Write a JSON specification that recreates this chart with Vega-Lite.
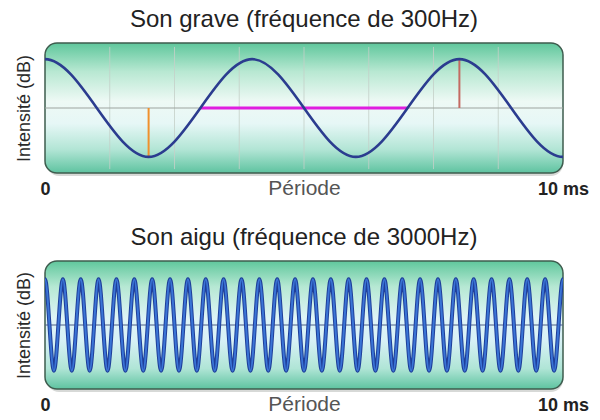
{
  "$schema": "https://vega.github.io/schema/vega-lite/v6.json",
  "padding": {"left": 15, "top": 8, "right": 0, "bottom": 0},
  "background": "white",
  "spacing": 28,
  "config": {
    "view": {"stroke": null},
    "font": "Liberation Sans",
    "title": {"font": "Liberation Sans", "fontSize": 24, "fontWeight": "normal", "color": "#222222", "offset": 10},
    "axisX": {
      "tickCount": 1, "ticks": false, "domain": false, "grid": false,
      "labelExpr": "datum.value == 0 ? '0' : datum.value == 10 ? '10 ms' : ''",
      "labelAlign": "center", "labelFlush": false, "labelOverlap": false,
      "labelFont": "Liberation Sans", "labelFontSize": 18, "labelFontWeight": "bold", "labelColor": "#222222",
      "labelPadding": 7,
      "titleFont": "Liberation Sans", "titleFontSize": 21, "titleFontWeight": "normal",
      "titleColor": "#555555", "titlePadding": -21
    },
    "axisY": {
      "ticks": false, "domain": false, "grid": false, "labels": false,
      "titleFont": "Liberation Sans", "titleFontSize": 18, "titleFontWeight": "normal",
      "titleColor": "#2a2a2a", "titlePadding": 12
    }
  },
  "datasets": {
    "grave": [
      {"x": -2, "y": -1}, {"x": 0, "y": 1}, {"x": 2, "y": -1}, {"x": 4, "y": 1}, {"x": 6, "y": -1}, {"x": 8, "y": 1}, {"x": 10, "y": -1}, {"x": 12, "y": 1}
    ],
    "aigu": [
      {"x": -0.172, "y": -1},
      {"x": 0, "y": 1}, {"x": 0.172, "y": -1}, {"x": 0.345, "y": 1}, {"x": 0.517, "y": -1}, {"x": 0.69, "y": 1}, {"x": 0.862, "y": -1},
      {"x": 1.034, "y": 1}, {"x": 1.207, "y": -1}, {"x": 1.379, "y": 1}, {"x": 1.552, "y": -1}, {"x": 1.724, "y": 1}, {"x": 1.897, "y": -1},
      {"x": 2.069, "y": 1}, {"x": 2.241, "y": -1}, {"x": 2.414, "y": 1}, {"x": 2.586, "y": -1}, {"x": 2.759, "y": 1}, {"x": 2.931, "y": -1},
      {"x": 3.103, "y": 1}, {"x": 3.276, "y": -1}, {"x": 3.448, "y": 1}, {"x": 3.621, "y": -1}, {"x": 3.793, "y": 1}, {"x": 3.966, "y": -1},
      {"x": 4.138, "y": 1}, {"x": 4.31, "y": -1}, {"x": 4.483, "y": 1}, {"x": 4.655, "y": -1}, {"x": 4.828, "y": 1}, {"x": 5.0, "y": -1},
      {"x": 5.172, "y": 1}, {"x": 5.345, "y": -1}, {"x": 5.517, "y": 1}, {"x": 5.69, "y": -1}, {"x": 5.862, "y": 1}, {"x": 6.034, "y": -1},
      {"x": 6.207, "y": 1}, {"x": 6.379, "y": -1}, {"x": 6.552, "y": 1}, {"x": 6.724, "y": -1}, {"x": 6.897, "y": 1}, {"x": 7.069, "y": -1},
      {"x": 7.241, "y": 1}, {"x": 7.414, "y": -1}, {"x": 7.586, "y": 1}, {"x": 7.759, "y": -1}, {"x": 7.931, "y": 1}, {"x": 8.103, "y": -1},
      {"x": 8.276, "y": 1}, {"x": 8.448, "y": -1}, {"x": 8.621, "y": 1}, {"x": 8.793, "y": -1}, {"x": 8.966, "y": 1}, {"x": 9.138, "y": -1},
      {"x": 9.31, "y": 1}, {"x": 9.483, "y": -1}, {"x": 9.655, "y": 1}, {"x": 9.828, "y": -1}, {"x": 10.0, "y": 1},
      {"x": 10.172, "y": -1}
    ],
    "gridx": [
      {"x": 1.25}, {"x": 2.5}, {"x": 3.75}, {"x": 5}, {"x": 6.25}, {"x": 7.5}, {"x": 8.75}
    ]
  },
  "vconcat": [
    {
      "title": "Son grave (fréquence de 300Hz)",
      "width": 518,
      "height": 130,
      "layer": [
        {
          "data": {"values": [{"x": 0, "x2": 10, "y": -1.33, "y2": 1.33}]},
          "mark": {"type": "rect", "cornerRadius": 12, "fill": "#9aa09c", "opacity": 0.4, "xOffset": 2, "yOffset": 3},
          "encoding": {
            "x": {"field": "x", "type": "quantitative", "title": "Période", "scale": {"domain": [0, 10], "nice": false, "zero": false}},
            "x2": {"field": "x2"},
            "y": {"field": "y", "type": "quantitative", "title": "Intensité (dB)", "scale": {"domain": [-1.33, 1.33], "nice": false, "zero": false}},
            "y2": {"field": "y2"}
          }
        },
        {
          "data": {"values": [{"x": 0, "x2": 10, "y": -1.33, "y2": 1.33}]},
          "mark": {
            "type": "rect", "cornerRadius": 12, "stroke": "#3e5c4e", "strokeWidth": 1.5,
            "fill": {"gradient": "linear", "x1": 0, "y1": 0, "x2": 0, "y2": 1, "stops": [
              {"offset": 0, "color": "#5fc79c"},
              {"offset": 0.22, "color": "#b8e8d2"},
              {"offset": 0.45, "color": "#eef9f5"},
              {"offset": 0.62, "color": "#e6f7f6"},
              {"offset": 0.82, "color": "#b2e5d5"},
              {"offset": 1, "color": "#5ec3a0"}
            ]}
          },
          "encoding": {
            "x": {"field": "x", "type": "quantitative", "title": "Période"},
            "x2": {"field": "x2"},
            "y": {"field": "y", "type": "quantitative", "title": "Intensité (dB)"},
            "y2": {"field": "y2"}
          }
        },
        {
          "data": {"name": "gridx"},
          "mark": {"type": "rule", "color": "#c4cfc8", "strokeWidth": 1, "opacity": 0.8},
          "encoding": {
            "x": {"field": "x", "type": "quantitative", "title": "Période"},
            "y": {"datum": -1.25, "type": "quantitative"},
            "y2": {"datum": 1.25}
          }
        },
        {
          "data": {"values": [{"x": 0, "x2": 10, "y": 0}]},
          "mark": {"type": "rule", "color": "#9ea49f", "strokeWidth": 1.2},
          "encoding": {
            "x": {"field": "x", "type": "quantitative", "title": "Période"},
            "x2": {"field": "x2"},
            "y": {"field": "y", "type": "quantitative", "title": "Intensité (dB)"}
          }
        },
        {
          "data": {"values": [{"x": 2, "y": 0, "y2": -1}]},
          "mark": {"type": "rule", "color": "#f0902c", "strokeWidth": 2},
          "encoding": {
            "x": {"field": "x", "type": "quantitative", "title": "Période"},
            "y": {"field": "y", "type": "quantitative", "title": "Intensité (dB)"},
            "y2": {"field": "y2"}
          }
        },
        {
          "data": {"values": [{"x": 8, "y": 0, "y2": 1}]},
          "mark": {"type": "rule", "color": "#c46a62", "strokeWidth": 2},
          "encoding": {
            "x": {"field": "x", "type": "quantitative", "title": "Période"},
            "y": {"field": "y", "type": "quantitative", "title": "Intensité (dB)"},
            "y2": {"field": "y2"}
          }
        },
        {
          "data": {"values": [{"x": 3, "x2": 7, "y": 0}]},
          "mark": {"type": "rule", "color": "#e01ee0", "strokeWidth": 3},
          "encoding": {
            "x": {"field": "x", "type": "quantitative", "title": "Période"},
            "x2": {"field": "x2"},
            "y": {"field": "y", "type": "quantitative", "title": "Intensité (dB)"}
          }
        },
        {
          "data": {"name": "grave"},
          "mark": {"type": "line", "interpolate": "monotone", "clip": true, "color": "#2b3c8f", "strokeWidth": 2.6},
          "encoding": {
            "x": {"field": "x", "type": "quantitative", "title": "Période"},
            "y": {"field": "y", "type": "quantitative", "title": "Intensité (dB)"}
          }
        }
      ]
    },
    {
      "title": "Son aigu (fréquence de 3000Hz)",
      "width": 518,
      "height": 128,
      "layer": [
        {
          "data": {"values": [{"x": 0, "x2": 10, "y": -1.4, "y2": 1.4}]},
          "mark": {"type": "rect", "cornerRadius": 12, "fill": "#9aa09c", "opacity": 0.4, "xOffset": 2, "yOffset": 3},
          "encoding": {
            "x": {"field": "x", "type": "quantitative", "title": "Période", "scale": {"domain": [0, 10], "nice": false, "zero": false}},
            "x2": {"field": "x2"},
            "y": {"field": "y", "type": "quantitative", "title": "Intensité (dB)", "scale": {"domain": [-1.4, 1.4], "nice": false, "zero": false}},
            "y2": {"field": "y2"}
          }
        },
        {
          "data": {"values": [{"x": 0, "x2": 10, "y": -1.4, "y2": 1.4}]},
          "mark": {
            "type": "rect", "cornerRadius": 12, "stroke": "#3e5c4e", "strokeWidth": 1.5,
            "fill": {"gradient": "linear", "x1": 0, "y1": 0, "x2": 0, "y2": 1, "stops": [
              {"offset": 0, "color": "#5fc79c"},
              {"offset": 0.2, "color": "#b6e8d3"},
              {"offset": 0.45, "color": "#dff4f7"},
              {"offset": 0.62, "color": "#d8f1f6"},
              {"offset": 0.84, "color": "#b0e5d6"},
              {"offset": 1, "color": "#5ec3a0"}
            ]}
          },
          "encoding": {
            "x": {"field": "x", "type": "quantitative", "title": "Période"},
            "x2": {"field": "x2"},
            "y": {"field": "y", "type": "quantitative", "title": "Intensité (dB)"},
            "y2": {"field": "y2"}
          }
        },
        {
          "data": {"values": [{"x": 0, "x2": 10, "y": 0}]},
          "mark": {"type": "rule", "color": "#4f5f86", "strokeWidth": 1},
          "encoding": {
            "x": {"field": "x", "type": "quantitative", "title": "Période"},
            "x2": {"field": "x2"},
            "y": {"field": "y", "type": "quantitative", "title": "Intensité (dB)"}
          }
        },
        {
          "data": {"name": "aigu"},
          "mark": {"type": "line", "interpolate": "monotone", "clip": true, "color": "#1f3f9a", "strokeWidth": 4},
          "encoding": {
            "x": {"field": "x", "type": "quantitative", "title": "Période"},
            "y": {"field": "y", "type": "quantitative", "title": "Intensité (dB)"}
          }
        },
        {
          "data": {"name": "aigu"},
          "mark": {"type": "line", "interpolate": "monotone", "clip": true, "color": "#3a74d6", "strokeWidth": 2},
          "encoding": {
            "x": {"field": "x", "type": "quantitative", "title": "Période"},
            "y": {"field": "y", "type": "quantitative", "title": "Intensité (dB)"}
          }
        }
      ]
    }
  ]
}
